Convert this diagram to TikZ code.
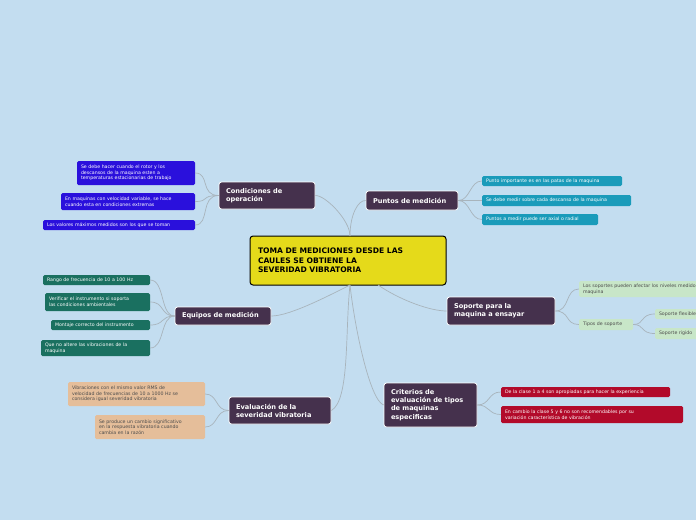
\documentclass[tikz,border=0pt]{standalone}
\usepackage{fontspec}
\setmainfont{DejaVu Sans}
\definecolor{bg}{HTML}{C3DDF0}
\definecolor{mainc}{HTML}{45314D}
\definecolor{cblue}{HTML}{2A10DC}
\definecolor{cteal}{HTML}{1A9BBA}
\definecolor{cgreen}{HTML}{1A7060}
\definecolor{ctan}{HTML}{E5BE9A}
\definecolor{cred}{HTML}{B20A2A}
\definecolor{clg}{HTML}{C8E6C8}
\definecolor{cyel}{HTML}{E5DA1A}
\definecolor{lnc}{HTML}{A8B4BC}
\begin{document}
\begin{tikzpicture}[x=1pt,y=-1pt,
  topic/.style={draw=white,line width=0.8pt,fill=mainc,rounded corners=2.5pt,text=white,font=\fontsize{6.6}{8.2}\selectfont\bfseries,align=left,inner xsep=7pt,inner ysep=0pt,anchor=center},
  leaf/.style={rounded corners=1.5pt,text=white,font=\fontsize{4.7}{5.6}\selectfont,align=left,inner xsep=4pt,inner ysep=0pt,anchor=center},
  dleaf/.style={leaf,text=black!70},
  con/.style={draw=lnc,line width=0.7pt}]
\fill[bg] (0,0) rectangle (696,520);
\useasboundingbox (0,0) rectangle (696,520);
\clip (0,0) rectangle (696,520);
% central
\node[draw=black,line width=1pt,fill=cyel,rounded corners=3pt,minimum width=196pt,minimum height=49pt,text width=180pt,align=left,font=\fontsize{7.6}{9.6}\selectfont\bfseries] (c) at (348,260.5) {TOMA DE MEDICIONES DESDE LAS\\CAULES SE OBTIENE LA\\SEVERIDAD VIBRATORIA};
% topics
\node[topic,minimum width=96pt,minimum height=27pt,text width=82pt] (t1) at (267,195.5) {Condiciones de\\operación};
\node[topic,minimum width=92pt,minimum height=19pt,text width=78pt] (t2) at (412,200.5) {Puntos de medición};
\node[topic,minimum width=96pt,minimum height=18pt,text width=82pt] (t3) at (223,316) {Equipos de medición};
\node[topic,minimum width=102pt,minimum height=27pt,text width=88pt] (t4) at (280,410.5) {Evaluación de la\\severidad vibratoria};
\node[topic,minimum width=93pt,minimum height=44pt,text width=79pt] (t5) at (430.5,405) {Criterios de\\evaluación de tipos\\de maquinas\\especificas};
\node[topic,minimum width=108pt,minimum height=28pt,text width=94pt] (t6) at (501,311) {Soporte para la\\maquina a ensayar};
% leaves cond
\node[leaf,fill=cblue,minimum width=118pt,minimum height=24pt,text width=110pt] (a1) at (136,173) {Se debe hacer cuando el rotor y los\\descansos de la maquina esten a\\temperaturas estacionarias de trabajo};
\node[leaf,fill=cblue,minimum width=134pt,minimum height=17pt,text width=126pt] (a2) at (128,201.5) {En maquinas con velocidad variable, se hace\\cuando esta en condiciones extremas};
\node[leaf,fill=cblue,minimum width=152pt,minimum height=10pt,text width=144pt] (a3) at (119,225) {Los valores máximos medidos son los que se toman};
% puntos
\node[leaf,fill=cteal,minimum width=140pt,minimum height=10pt,text width=132pt] (b1) at (552,181) {Punto importante es en las patas de la maquina};
\node[leaf,fill=cteal,minimum width=149pt,minimum height=11pt,text width=141pt] (b2) at (556.5,200.5) {Se debe medir sobre cada descanso de la maquina};
\node[leaf,fill=cteal,minimum width=116pt,minimum height=11pt,text width=108pt] (b3) at (540,219.5) {Puntos a medir puede ser axial o radial};
% equipos
\node[leaf,fill=cgreen,minimum width=107pt,minimum height=10pt,text width=99pt] (e1) at (96.5,280) {Rango de frecuencia de 10 a 100 Hz};
\node[leaf,fill=cgreen,minimum width=105pt,minimum height=18pt,text width=97pt] (e2) at (97.5,302) {Verificar el instrumento si soporta\\las condiciones ambientales};
\node[leaf,fill=cgreen,minimum width=99pt,minimum height=10pt,text width=91pt] (e3) at (100.5,325) {Montaje correcto del instrumento};
\node[leaf,fill=cgreen,minimum width=109pt,minimum height=16pt,text width=101pt] (e4) at (95.5,348) {Que no altere las vibraciones de la\\maquina};
% eval
\node[dleaf,fill=ctan,minimum width=137pt,minimum height=24pt,text width=129pt] (f1) at (136.5,394) {Vibraciones con el mismo valor RMS de\\velocidad de frecuencias de 10 a 1000 Hz se\\considera igual severidad vibratoria};
\node[dleaf,fill=ctan,minimum width=110pt,minimum height=24pt,text width=102pt] (f2) at (150,427) {Se produce un cambio significativo\\en la respuesta vibratoria cuando\\cambia en la razón};
% criterios
\node[leaf,fill=cred,minimum width=169pt,minimum height=10pt,text width=161pt] (g1) at (585.5,392) {De la clase 1 a 4 son apropiadas para hacer la experiencia};
\node[leaf,fill=cred,minimum width=182pt,minimum height=17pt,text width=174pt] (g2) at (592,414.5) {En cambio la clase 5 y 6 no son recomendables por su\\variación característica de vibración};
% soporte
\node[dleaf,fill=clg,minimum width=200pt,minimum height=16pt,text width=192pt] (h1) at (679,289) {Los soportes pueden afectar los niveles medidos en la\\maquina};
\node[dleaf,fill=clg,minimum width=54pt,minimum height=11pt,text width=46pt] (h2) at (606,324.5) {Tipos de soporte};
\node[dleaf,fill=clg,minimum width=60pt,minimum height=10pt,text width=52pt] (h3) at (685,314) {Soporte flexible};
\node[dleaf,fill=clg,minimum width=60pt,minimum height=11pt,text width=52pt] (h4) at (685,333.5) {Soporte rigido};
% connectors center
\coordinate (cb) at (350,285);
\coordinate (ct) at (350,236);
\coordinate (cr) at (378,285);
\draw[con] (ct) .. controls (350,220) and (325,195) .. (t1.east);
\draw[con] (ct) .. controls (350,215) and (358,200) .. (t2.west);
\draw[con] (cb) .. controls (330,295) and (290,316) .. (t3.east);
\draw[con] (cb) .. controls (345,330) and (350,400) .. (t4.east);
\draw[con] (cb) .. controls (355,330) and (370,400) .. (t5.west);
\draw[con] (cr) .. controls (400,300) and (430,311) .. (t6.west);
% connectors topics to leaves
\foreach \l in {a1,a2,a3}{\draw[con] (t1.west) .. controls (200,195.5) and (210,0|-\l.east) .. (\l.east);}
\foreach \l in {b1,b2,b3}{\draw[con] (t2.east) .. controls (470,200.5) and (470,0|-\l.west) .. (\l.west);}
\foreach \l in {e1,e2,e3,e4}{\draw[con] (t3.west) .. controls (160,316) and (165,0|-\l.east) .. (\l.east);}
\foreach \l in {f1,f2}{\draw[con] (t4.west) .. controls (215,410.5) and (218,0|-\l.east) .. (\l.east);}
\draw[con] (t5.east) .. controls (490,405) and (488,392) .. (g1.west);
\draw[con] (t5.east) .. controls (490,405) and (488,414.5) .. (g2.west);
\draw[con] (t6.east) .. controls (570,311) and (565,289) .. (h1.west);
\draw[con] (t6.east) .. controls (570,311) and (565,324.5) .. (h2.west);
\draw[con] (h2.east) .. controls (645,324.5) and (640,314) .. (h3.west);
\draw[con] (h2.east) .. controls (645,324.5) and (640,333.5) .. (h4.west);
\end{tikzpicture}
\end{document}
